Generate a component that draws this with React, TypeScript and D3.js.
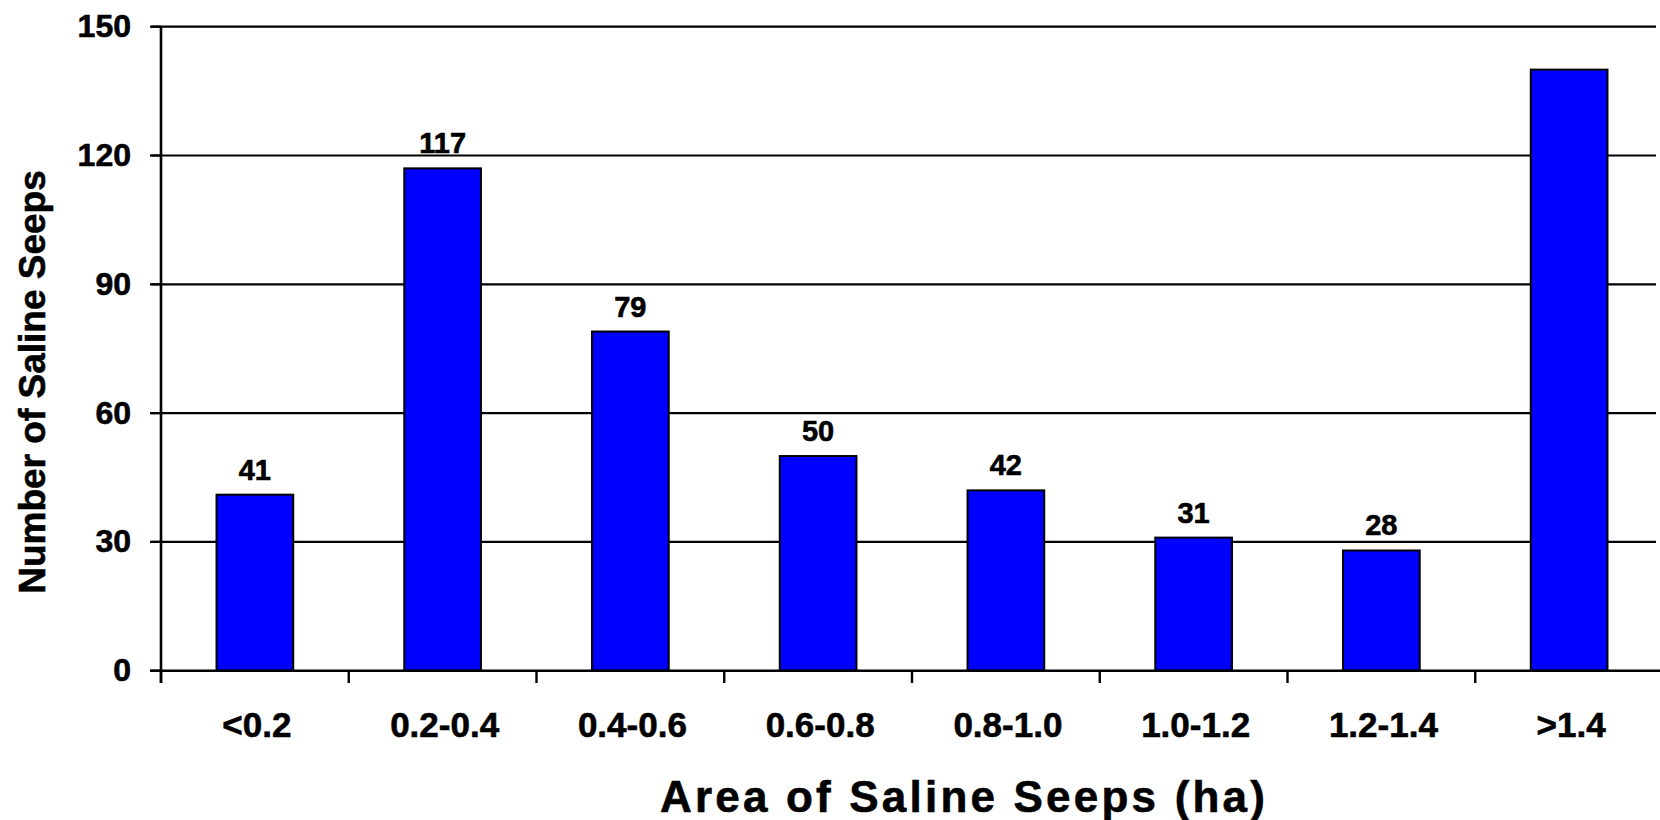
import React from "react";
import * as d3 from "d3";

const categories = ["<0.2", "0.2-0.4", "0.4-0.6", "0.6-0.8", "0.8-1.0", "1.0-1.2", "1.2-1.4", ">1.4"];
const counts = [41, 117, 79, 50, 42, 31, 28, 140];
const showLabel = [true, true, true, true, true, true, true, false];
const yTicks = [0, 30, 60, 90, 120, 150];

const W = 1660;
const H = 820;
const FONT = "'Liberation Sans', Arial, Helvetica, sans-serif";

export default function App() {
  const x = d3.scaleBand<string>().domain(categories).range([161, 1663]).paddingInner(0.5915).paddingOuter(0.5915 / 2);
  const y = d3.scaleLinear().domain([0, 150]).range([670.7, 26.7]);
  const step = x.step();
  const boundaries = d3.range(categories.length + 1).map((i) => 161 + i * step);
  const textStroke = { stroke: "#000", strokeWidth: 0.6 };

  return (
    <div style={{ position: "absolute", left: 0, top: 0 }}>
      <svg width={W} height={H} style={{ display: "block", background: "#fff" }}>
        {/* gridlines */}
        {yTicks.filter((t) => t > 0).map((t) => (
          <line key={"g" + t} x1={151} x2={1656} y1={y(t)} y2={y(t)} stroke="#000" strokeWidth={2.2} />
        ))}
        {/* y ticks */}
        {yTicks.map((t) => (
          <line key={"yt" + t} x1={150} x2={161} y1={y(t)} y2={y(t)} stroke="#000" strokeWidth={2.2} />
        ))}
        {/* bars */}
        {categories.map((c, i) => (
          <rect
            key={c}
            x={x(c)}
            y={y(counts[i])}
            width={x.bandwidth()}
            height={y(0) - y(counts[i])}
            fill="#0000FF"
            stroke="#000"
            strokeWidth={2}
          />
        ))}
        {/* baseline & y axis */}
        <line x1={150} x2={1660} y1={y(0)} y2={y(0)} stroke="#000" strokeWidth={2.6} />
        <line x1={161} x2={161} y1={y(150)} y2={683} stroke="#000" strokeWidth={2.6} />
        {/* x ticks */}
        {boundaries.map((b, i) => (
          <line key={"xt" + i} x1={b} x2={b} y1={y(0)} y2={683} stroke="#000" strokeWidth={2.4} />
        ))}
        {/* y tick labels */}
        {yTicks.map((t) => (
          <text key={"yl" + t} x={131} y={y(t)} dy="0.33em" textAnchor="end" fontFamily={FONT} fontWeight="bold" fontSize={32} fill="#000" {...textStroke}>
            {t}
          </text>
        ))}
        {/* x labels */}
        {categories.map((c) => (
          <text key={"xl" + c} x={(x(c) as number) + x.bandwidth() / 2 + 2} y={737} textAnchor="middle" fontFamily={FONT} fontWeight="bold" fontSize={35} fill="#000" {...textStroke}>
            {c}
          </text>
        ))}
        {/* value labels */}
        {categories.map((c, i) =>
          showLabel[i] ? (
            <text key={"v" + c} x={(x(c) as number) + x.bandwidth() / 2} y={y(counts[i]) - 15} textAnchor="middle" fontFamily={FONT} fontWeight="bold" fontSize={29} fill="#000" {...textStroke}>
              {counts[i]}
            </text>
          ) : null
        )}
        {/* axis titles */}
        <text x={964} y={812} textAnchor="middle" fontFamily={FONT} fontWeight="bold" fontSize={44} letterSpacing={3.2} fill="#000" {...textStroke}>
          Area of Saline Seeps (ha)
        </text>
        <text transform="translate(45,382) rotate(-90)" textAnchor="middle" fontFamily={FONT} fontWeight="bold" fontSize={37} fill="#000" {...textStroke}>
          Number of Saline Seeps
        </text>
      </svg>
    </div>
  );
}
